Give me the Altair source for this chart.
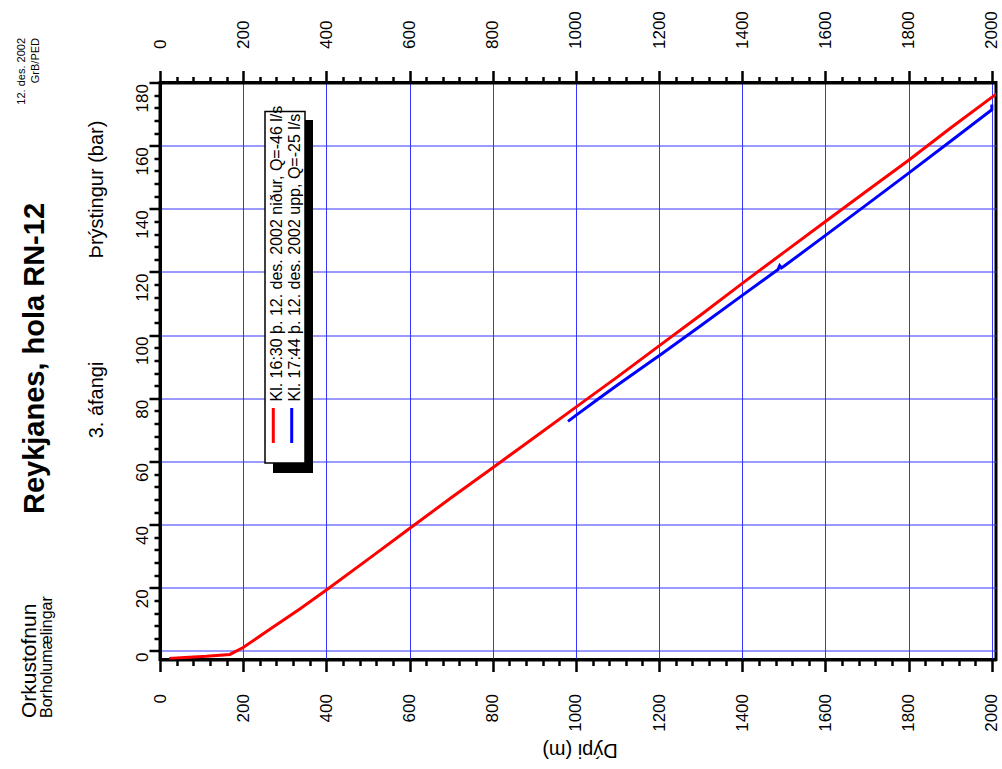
import altair as alt
import pandas as pd

# ---- data ----
red_depth = [22, 60, 112, 168, 200, 250, 337, 400, 500, 600, 700, 800, 900, 1000, 1100, 1200,
             1300, 1400, 1500, 1600, 1700, 1800, 1900, 2011]
red_pres = [-2.4, -2.1, -1.7, -1.1, 1.1, 5.6, 13.4, 19.3, 29.0, 38.8, 48.5, 58.0, 67.6, 77.2, 86.8, 96.6,
            106.4, 116.4, 126.2, 136.0, 145.7, 155.4, 165.5, 176.4]
blue_depth = [981, 1000, 1056, 1100, 1186, 1200, 1300, 1400, 1486, 1490, 1494, 1500, 1600, 1700,
              1800, 1900, 2000, 2000]
blue_pres = [72.7, 74.6, 80.0, 84.2, 92.2, 93.5, 103.0, 112.6, 120.8, 122.0, 121.3, 121.8, 131.6, 141.4,
             151.3, 161.3, 171.4, 173.0]

series_names = ["Kl. 16:30 þ. 12. des. 2002 niður, Q=-46 l/s",
                "Kl. 17:44 þ. 12. des. 2002 upp, Q=-25 l/s"]
series_colors = ["#ff0000", "#0000ff"]

x_major = [0, 200, 400, 600, 800, 1000, 1200, 1400, 1600, 1800, 2000]
x_minor = [40, 80, 120, 160, 240, 280, 320, 360, 440, 480, 520, 560, 640, 680, 720, 760,
           840, 880, 920, 960, 1040, 1080, 1120, 1160, 1240, 1280, 1320, 1360, 1440, 1480,
           1520, 1560, 1640, 1680, 1720, 1760, 1840, 1880, 1920, 1960]
y_major = [0, 20, 40, 60, 80, 100, 120, 140, 160, 180]
y_minor = [4, 8, 12, 16, 24, 28, 32, 36, 44, 48, 52, 56, 64, 68, 72, 76, 84, 88, 92, 96,
           104, 108, 112, 116, 124, 128, 132, 136, 144, 148, 152, 156, 164, 168, 172, 176]

rows = []
for i, (d, p) in enumerate(zip(red_depth, red_pres)):
    rows.append({"depth": d, "p": p, "s": series_names[0], "o": i})
for i, (d, p) in enumerate(zip(blue_depth, blue_pres)):
    rows.append({"depth": d, "p": p, "s": series_names[1], "o": i})
df = pd.DataFrame(rows)

FONT = "Liberation Sans"
GRID = "#3535ff"

xs = alt.Scale(domain=[0, 2010], nice=False, zero=False)
ys = alt.Scale(domain=[-2.7, 180], nice=False, zero=False)

common_x = dict(title=None, labelAngle=270, labelBaseline="middle", labelPadding=22,
                labelFontSize=17, labelFont=FONT, labelColor="black", labelFlush=False,
                labelOverlap=False, labelBound=False, tickColor="black", tickWidth=2.5,
                domainColor="black", domainWidth=3, format="d")

ax_bottom = alt.Axis(orient="bottom", values=x_major, labelAlign="right", tickSize=12,
                     grid=True, gridColor=GRID, gridWidth=1, gridOpacity=1, **common_x)
ax_top = alt.Axis(orient="top", values=x_major, labelAlign="left", tickSize=12, grid=False, **common_x)
ax_bottom_minor = alt.Axis(orient="bottom", values=x_minor, labels=False, tickSize=6, tickWidth=2.5,
                           tickColor="black", domain=False, grid=False, title=None)
ax_top_minor = alt.Axis(orient="top", values=x_minor, labels=False, tickSize=6, tickWidth=2.5,
                        tickColor="black", domain=False, grid=False, title=None)

ax_left = alt.Axis(orient="left", values=y_major, title=None, labelAngle=270, labelAlign="right",
                   labelBaseline="alphabetic", labelPadding=2, labelOffset=1, labelFontSize=17,
                   labelFont=FONT, labelColor="black", labelFlush=False, labelOverlap=False,
                   labelBound=False, tickSize=11, tickWidth=2.5, tickColor="black",
                   domainColor="black", domainWidth=3, grid=True, gridColor=GRID, gridWidth=1,
                   gridOpacity=1, format="d")
ax_left_minor = alt.Axis(orient="left", values=y_minor, labels=False, tickSize=6, tickWidth=2.5,
                         tickColor="black", domain=False, grid=False, title=None)

lines = alt.Chart(df).mark_line(strokeWidth=3, clip=True).encode(
    x=alt.X("depth:Q", scale=xs, axis=ax_bottom),
    y=alt.Y("p:Q", scale=ys, axis=ax_left),
    color=alt.Color("s:N", scale=alt.Scale(domain=series_names, range=series_colors), legend=None),
    detail="s:N",
    order="o:Q",
)

dummy = alt.Chart(df).mark_point(opacity=0)
minor_layer = dummy.encode(x=alt.X("depth:Q", scale=xs, axis=ax_bottom_minor),
                           y=alt.Y("p:Q", scale=ys, axis=ax_left_minor))
top_layer = dummy.encode(x=alt.X("depth:Q", scale=xs, axis=ax_top),
                         y=alt.Y("p:Q", scale=ys, axis=None))
top_minor_layer = dummy.encode(x=alt.X("depth:Q", scale=xs, axis=ax_top_minor),
                               y=alt.Y("p:Q", scale=ys, axis=None))

one = pd.DataFrame({"k": [0]})

# legend box (decoration)
shadow = alt.Chart(one).mark_rect(color="black").encode(
    x=alt.value(113), x2=alt.value(153), y=alt.value(37.5), y2=alt.value(390.5))
box = alt.Chart(one).mark_rect(fill="white", stroke="black", strokeWidth=1.5).encode(
    x=alt.value(105), x2=alt.value(145), y=alt.value(29), y2=alt.value(380.5))
leg_red = alt.Chart(one).mark_rule(color=series_colors[0], strokeWidth=3).encode(
    x=alt.value(113.3), y=alt.value(325.5), y2=alt.value(360.5))
leg_blue = alt.Chart(one).mark_rule(color=series_colors[1], strokeWidth=3).encode(
    x=alt.value(131.7), y=alt.value(325.5), y2=alt.value(360.5))
leg_t1 = alt.Chart(one).mark_text(angle=270, align="left", baseline="middle", fontSize=16,
                                  font=FONT, color="black").encode(
    x=alt.value(116.5), y=alt.value(319), text=alt.value(series_names[0]))
leg_t2 = alt.Chart(one).mark_text(angle=270, align="left", baseline="middle", fontSize=16,
                                  font=FONT, color="black").encode(
    x=alt.value(134.5), y=alt.value(319), text=alt.value(series_names[1]))


def label(txt, x, y, size, align="center", bold=False, angle=270):
    return alt.Chart(one).mark_text(angle=angle, align=align, baseline="middle", fontSize=size,
                                    font=FONT, fontWeight="bold" if bold else "normal",
                                    color="black").encode(
        x=alt.value(x), y=alt.value(y), text=alt.value(txt))


texts = [
    label("Orkustofnun", -130, 635.5, 21, align="left"),
    label("Borholumælingar", -113, 635.5, 16, align="left"),
    label("Reykjanes, hola RN-12", -125, 276, 29, bold=True),
    label("3. áfangi", -63, 317.5, 20),
    label("Þrýstingur (bar)", -63, 107, 20),
    label("12. des. 2002", -138, -44.5, 11, align="right"),
    label("GrB/PED", -124, -44.5, 11, align="right"),
    label("Dýpi (m)", 420, 667.5, 20, angle=180),
]

chart = alt.layer(
    lines, minor_layer, top_layer, top_minor_layer,
    shadow, box, leg_red, leg_blue, leg_t1, leg_t2, *texts
).resolve_axis(x="independent", y="independent").properties(
    width=836, height=577,
    padding={"left": 160, "top": 82.5, "right": 6, "bottom": 109.5},
    autosize=alt.AutoSizeParams(type="none"),
    background="white",
).configure_view(stroke="black", strokeWidth=3)

chart.save("out.html", embed_options={"renderer": "svg", "actions": False})
